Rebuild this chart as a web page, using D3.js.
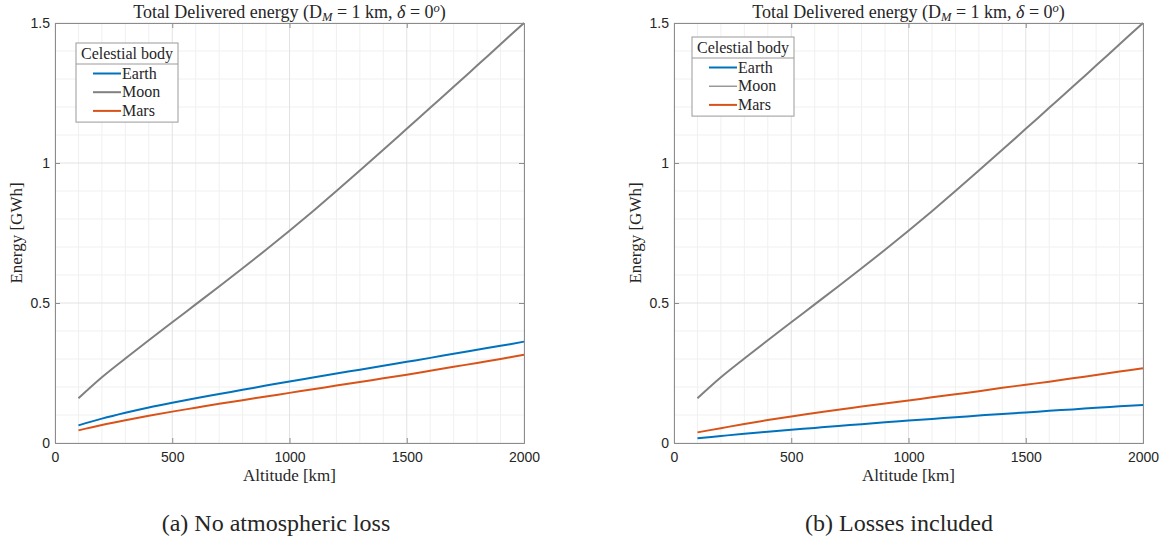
<!DOCTYPE html>
<html>
<head>
<meta charset="utf-8">
<script src="https://cdn.jsdelivr.net/npm/d3@7"></script>
<style>
  html, body { margin: 0; padding: 0; background: #fff; }
  svg { display: block; }
  .tick-lbl { font-family: "Liberation Sans", Arial, sans-serif; font-size: 14px; fill: #262626; }
  .serif { font-family: "Liberation Serif", "Times New Roman", serif; fill: #262626; }
</style>
</head>
<body>
<svg id="fig" width="1164" height="540"></svg>
<script>
// Altitude samples [km]
const altitudes = [100, 200, 300, 400, 500, 600, 700, 800, 900, 1000,
                   1100, 1200, 1300, 1400, 1500, 1600, 1700, 1800, 1900, 2000];

// Delivered energy [GWh], no atmospheric loss
const earthNoLoss = [0.063, 0.087, 0.108, 0.127, 0.144, 0.160, 0.175, 0.190, 0.205, 0.220,
                     0.234, 0.248, 0.262, 0.276, 0.290, 0.304, 0.319, 0.333, 0.347, 0.362];
const moonNoLoss  = [0.160, 0.235, 0.302, 0.367, 0.431, 0.495, 0.559, 0.624, 0.690, 0.758,
                     0.828, 0.900, 0.973, 1.047, 1.122, 1.197, 1.272, 1.348, 1.424, 1.500];
const marsNoLoss  = [0.045, 0.064, 0.081, 0.097, 0.112, 0.126, 0.140, 0.153, 0.166, 0.179,
                     0.192, 0.205, 0.218, 0.231, 0.244, 0.258, 0.272, 0.286, 0.300, 0.315];

// Delivered energy [GWh], losses included
const earthLoss = [0.017, 0.025, 0.033, 0.040, 0.047, 0.054, 0.061, 0.067, 0.074, 0.080,
                   0.086, 0.092, 0.098, 0.104, 0.109, 0.115, 0.120, 0.126, 0.131, 0.136];
const moonLoss  = [0.160, 0.235, 0.302, 0.367, 0.431, 0.495, 0.559, 0.624, 0.690, 0.758,
                   0.828, 0.900, 0.973, 1.047, 1.122, 1.197, 1.272, 1.348, 1.424, 1.500];
const marsLoss  = [0.038, 0.053, 0.068, 0.082, 0.095, 0.107, 0.119, 0.130, 0.141, 0.152,
                   0.163, 0.174, 0.185, 0.197, 0.208, 0.219, 0.231, 0.243, 0.255, 0.267];

const bodies = ["Earth", "Moon", "Mars"];
const bodyColors = ["#0072BD", "#808080", "#D95319"];

const xTicks = [0, 500, 1000, 1500, 2000];
const yTicks = [0, 0.5, 1, 1.5];
const yTickLabels = ["0", "0.5", "1", "1.5"];
const xMinorStep = 100;
const yMinorStep = 0.1;

const captions = ["(a) No atmospheric loss", "(b) Losses included"];

const panels = [
  { left: 55,  series: [earthNoLoss, moonNoLoss, marsNoLoss], legend: { x: 76, y: 43 },  moonLegendWidth: 2,   caption: captions[0], captionX: 276 },
  { left: 674, series: [earthLoss,   moonLoss,   marsLoss],   legend: { x: 692, y: 37 }, moonLegendWidth: 1.2, caption: captions[1], captionX: 899 }
];

const svg = d3.select("#fig");
const plotW = 469, plotTop = 23, plotBottom = 443;

panels.forEach(p => {
  const x = d3.scaleLinear().domain([0, 2000]).range([p.left, p.left + plotW]);
  const y = d3.scaleLinear().domain([0, 1.5]).range([plotBottom, plotTop]);
  const g = svg.append("g");

  // minor grid
  const xMinor = d3.range(0, 2000 + 1, xMinorStep).filter(v => !xTicks.includes(v));
  const yMinor = d3.range(0, 16).map(i => +(i * yMinorStep).toFixed(2)).filter(v => !yTicks.includes(v));
  g.selectAll(".xmin").data(xMinor).join("line")
    .attr("x1", d => x(d)).attr("x2", d => x(d)).attr("y1", plotTop).attr("y2", plotBottom)
    .attr("stroke", "#f0f0f0").attr("stroke-width", 1);
  g.selectAll(".ymin").data(yMinor).join("line")
    .attr("x1", p.left).attr("x2", p.left + plotW).attr("y1", d => y(d)).attr("y2", d => y(d))
    .attr("stroke", "#f0f0f0").attr("stroke-width", 1);
  // major grid
  g.selectAll(".xmaj").data(xTicks).join("line")
    .attr("x1", d => x(d)).attr("x2", d => x(d)).attr("y1", plotTop).attr("y2", plotBottom)
    .attr("stroke", "#e2e2e2").attr("stroke-width", 1);
  g.selectAll(".ymaj").data(yTicks).join("line")
    .attr("x1", p.left).attr("x2", p.left + plotW).attr("y1", d => y(d)).attr("y2", d => y(d))
    .attr("stroke", "#e2e2e2").attr("stroke-width", 1);

  // curves
  const line = d3.line().x((d, i) => x(altitudes[i])).y(d => y(d)).curve(d3.curveCatmullRom.alpha(0.5));
  p.series.forEach((vals, k) => {
    g.append("path").datum(vals)
      .attr("d", line)
      .attr("fill", "none")
      .attr("stroke", bodyColors[k])
      .attr("stroke-width", 2);
  });

  // axes with inward ticks
  const xAxis = d3.axisBottom(x).tickValues(xTicks).tickSize(-5).tickPadding(9).tickFormat(d3.format("d"));
  const yAxis = d3.axisLeft(y).tickValues(yTicks).tickSize(-5).tickPadding(5).tickFormat((d, i) => yTickLabels[i]);
  const xa = g.append("g").attr("transform", `translate(0,${plotBottom})`).call(xAxis);
  const ya = g.append("g").attr("transform", `translate(${p.left},0)`).call(yAxis);
  const xTop = g.append("g").attr("transform", `translate(0,${plotTop})`)
    .call(d3.axisTop(x).tickValues(xTicks).tickSize(-5).tickFormat(""));
  const yRight = g.append("g").attr("transform", `translate(${p.left + plotW},0)`)
    .call(d3.axisRight(y).tickValues(yTicks).tickSize(-5).tickFormat(""));
  [xa, ya, xTop, yRight].forEach(a => {
    a.select(".domain").attr("stroke", "#8c8c8c").attr("stroke-width", 1);
    a.selectAll(".tick line").attr("stroke", "#8c8c8c");
    a.selectAll(".tick text").attr("class", "tick-lbl").attr("font-size", null).attr("font-family", null);
  });

  // title
  const cx = p.left + plotW / 2;
  const t = g.append("text").attr("class", "serif").attr("x", cx).attr("y", 17.5)
    .attr("text-anchor", "middle").attr("font-size", 18);
  t.append("tspan").text("Total Delivered energy (D");
  t.append("tspan").attr("font-size", 12.5).attr("font-style", "italic").attr("dy", 3).text("M");
  t.append("tspan").attr("dy", -3).text(" = 1 km, ");
  t.append("tspan").attr("font-style", "italic").text("δ");
  t.append("tspan").text(" = 0");
  t.append("tspan").attr("font-size", 12.5).attr("font-style", "italic").attr("dy", -6).text("o");
  t.append("tspan").attr("dy", 6).text(")");

  // axis labels
  g.append("text").attr("class", "serif").attr("x", cx).attr("y", 481)
    .attr("text-anchor", "middle").attr("font-size", 17).text("Altitude [km]");
  g.append("text").attr("class", "serif")
    .attr("transform", `translate(${p.left - 33},${(plotTop + plotBottom) / 2}) rotate(-90)`)
    .attr("text-anchor", "middle").attr("font-size", 17).text("Energy [GWh]");

  // legend
  const L = p.legend, lw = 102, headH = 21, rowH = 18.7;
  const lg = g.append("g").attr("transform", `translate(${L.x},${L.y})`);
  lg.append("rect").attr("width", lw).attr("height", headH + rowH * 3 + 2)
    .attr("fill", "#fff").attr("stroke", "#9a9a9a").attr("stroke-width", 1);
  lg.append("line").attr("x1", 0).attr("x2", lw).attr("y1", headH).attr("y2", headH)
    .attr("stroke", "#9a9a9a");
  lg.append("text").attr("class", "serif").attr("x", lw / 2).attr("y", headH - 5.5)
    .attr("text-anchor", "middle").attr("font-size", 16).text("Celestial body");
  bodies.forEach((b, k) => {
    const yy = headH + 9.5 + k * rowH;
    lg.append("line").attr("x1", 17).attr("x2", 45).attr("y1", yy).attr("y2", yy)
      .attr("stroke", bodyColors[k]).attr("stroke-width", k === 1 ? p.moonLegendWidth : 2);
    lg.append("text").attr("class", "serif").attr("x", 46).attr("y", yy + 5)
      .attr("font-size", 16).text(b);
  });

  // caption
  g.append("text").attr("class", "serif").attr("x", p.captionX).attr("y", 531)
    .attr("text-anchor", "middle").attr("font-size", 24).text(p.caption);
});
</script>
</body>
</html>
